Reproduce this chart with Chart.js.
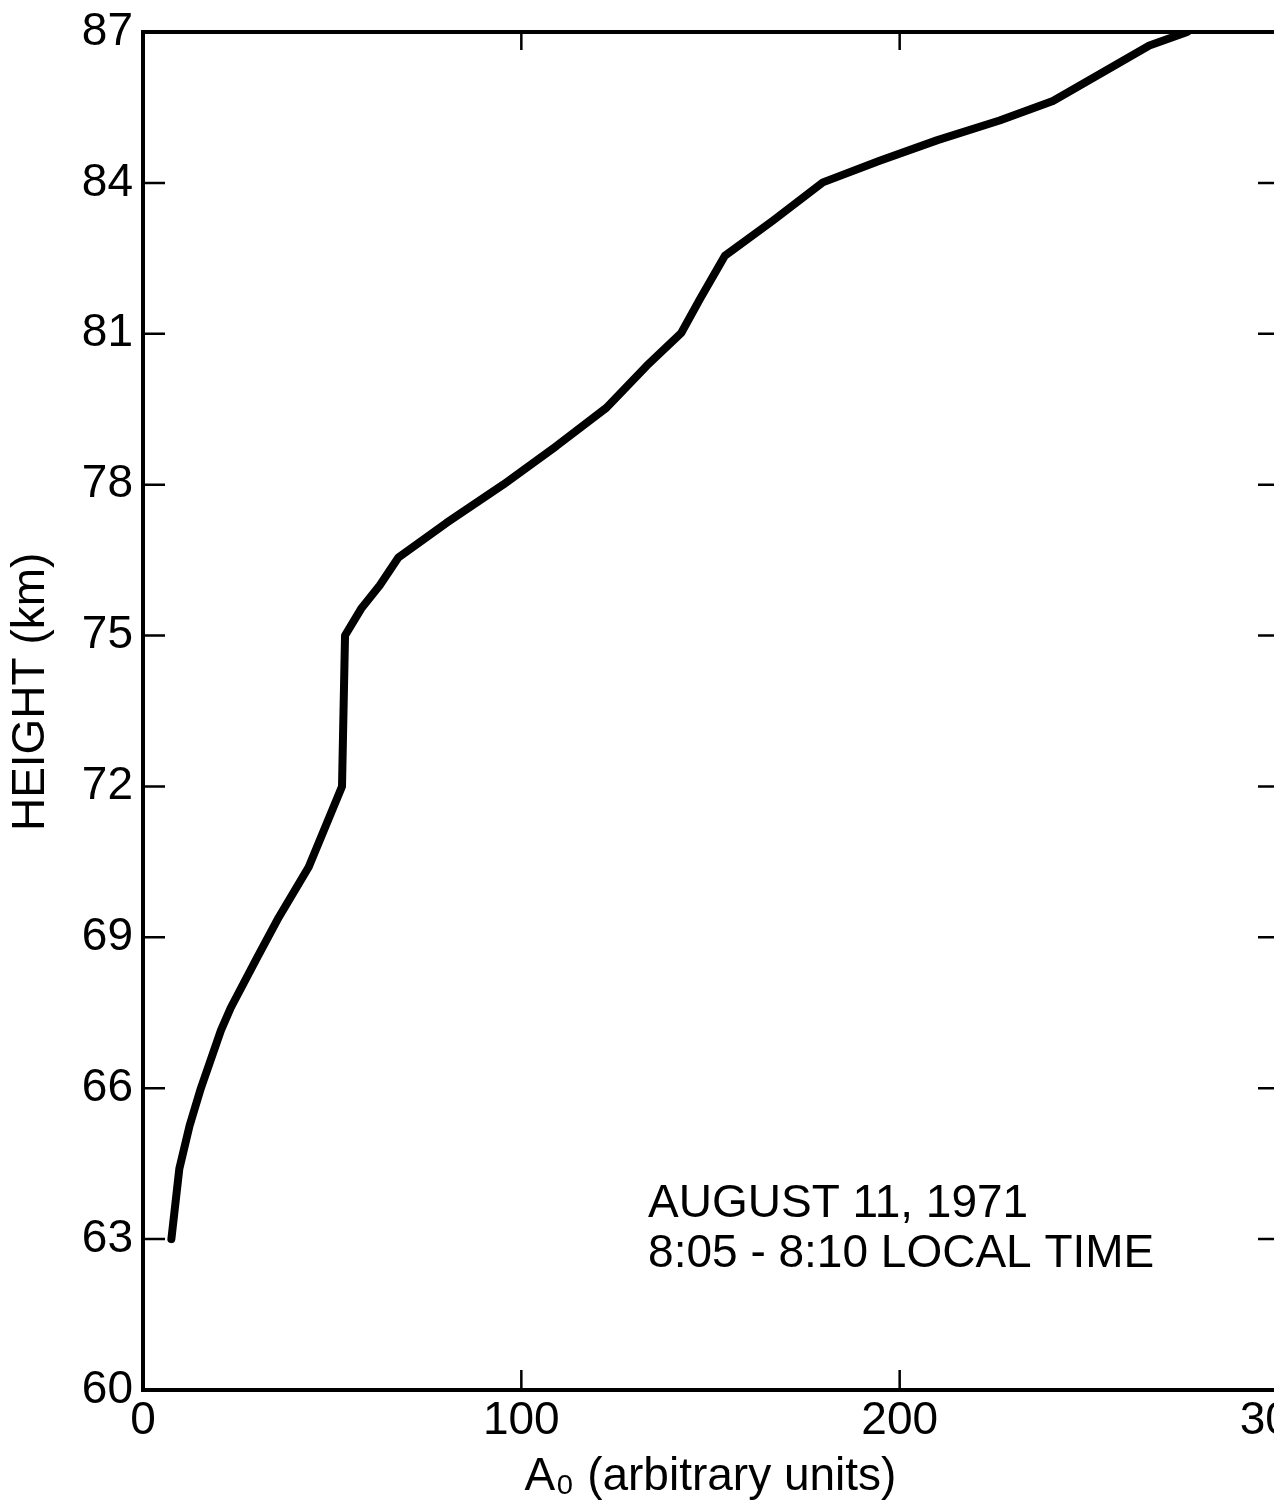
<!DOCTYPE html>
<html>
<head>
<meta charset="utf-8">
<script src="https://cdn.jsdelivr.net/npm/chart.js@4.4.1/dist/chart.umd.min.js"></script>
<style>
  html, body { margin: 0; padding: 0; background: #fff; overflow: hidden; }
  #wrap { width: 1340px; height: 1509px; }
</style>
</head>
<body>
<div id="wrap"><canvas id="myChart" width="1340" height="1509"></canvas></div>
<script>
// profile: amplitude (arbitrary units) vs height (km)
const amplitude = [7.5, 9.6, 12.3, 15.3, 20.6, 23.2, 30.2, 35.9, 43.8, 52.6, 53.4, 57.8, 62.6, 67.5,
    80.2, 95.2, 109.3, 122.5, 133.1, 142.3, 147.2, 153.8, 166.5, 179.7, 194.7, 210, 226.4,
    240.5, 252.8, 266, 276];
const height = [63, 64.4, 65.25, 66, 67.15, 67.6, 68.6, 69.4, 70.4, 72, 75, 75.55, 76, 76.55,
    77.24, 78.0, 78.77, 79.53, 80.36, 81.02, 81.69, 82.55, 83.25, 84.01, 84.44, 84.85, 85.24,
    85.63, 86.16, 86.73, 87];

const heightTicks = [60, 63, 66, 69, 72, 75, 78, 81, 84, 87];
const ampTicks = [0, 100, 200, 300];
const noteLines = ['AUGUST 11, 1971', '8:05 - 8:10 LOCAL TIME'];

const FONT = '"Liberation Sans", Arial, sans-serif';

// frame, inward tick marks and the date note
const frameTicks = {
    id: 'frameTicks',
    afterDraw(chart) {
        const { ctx, chartArea: a, scales: { x, y } } = chart;
        ctx.save();
        ctx.strokeStyle = '#000';
        ctx.lineWidth = 4;
        ctx.strokeRect(a.left, a.top, a.right - a.left, a.bottom - a.top);

        ctx.lineWidth = 2.5;
        ctx.beginPath();
        heightTicks.slice(1, -1).forEach(v => {
            const py = y.getPixelForValue(v);
            ctx.moveTo(a.left, py);
            ctx.lineTo(a.left + 22, py);
            ctx.moveTo(a.right, py);
            ctx.lineTo(a.right - 20, py);
        });
        ampTicks.slice(1, -1).forEach(v => {
            const px = x.getPixelForValue(v);
            ctx.moveTo(px, a.bottom);
            ctx.lineTo(px, a.bottom - 20);
            ctx.moveTo(px, a.top);
            ctx.lineTo(px, a.top + 18);
        });
        ctx.stroke();

        ctx.fillStyle = '#000';
        ctx.font = '46px ' + FONT;
        ctx.textBaseline = 'middle';
        ctx.textAlign = 'left';
        noteLines.forEach((t, i) => {
            ctx.fillText(t, x.getPixelForValue(133.5), y.getPixelForValue(63.7 - i));
        });
        ctx.restore();
    }
};

const ctx = document.getElementById('myChart');

new Chart(ctx, {
    type: 'line',
    data: {
        datasets: [{
            data: amplitude.map((v, i) => ({ x: v, y: height[i] })),
            borderColor: '#000',
            borderWidth: 8,
            pointRadius: 0,
            tension: 0,
            fill: false,
            borderJoinStyle: 'round',
            borderCapStyle: 'round'
        }]
    },
    options: {
        responsive: false,
        animation: false,
        layout: { padding: { left: 0, top: 32, right: 62, bottom: 0 } },
        plugins: {
            legend: { display: false },
            tooltip: { enabled: false }
        },
        scales: {
            x: {
                type: 'linear',
                min: 0,
                max: 300,
                afterBuildTicks: s => { s.ticks = ampTicks.map(v => ({ value: v })); },
                afterFit: s => {
                    s.height = 119;
                    s.paddingLeft = 0;
                    s.paddingRight = 0;
                },
                grid: { display: false, drawTicks: false },
                border: { display: false },
                ticks: {
                    color: '#000',
                    padding: 4,
                    maxRotation: 0,
                    font: { family: FONT, size: 46 }
                },
                title: {
                    display: true,
                    text: 'A\u2080 (arbitrary units)',
                    color: '#000',
                    font: { family: FONT, size: 46 },
                    padding: { top: 0, bottom: 4 }
                }
            },
            y: {
                type: 'linear',
                min: 60,
                max: 87,
                afterBuildTicks: s => { s.ticks = heightTicks.map(v => ({ value: v })); },
                afterFit: s => {
                    s.width = 143;
                    s.paddingTop = 0;
                    s.paddingBottom = 0;
                },
                grid: { display: false, drawTicks: false },
                border: { display: false },
                ticks: {
                    color: '#000',
                    padding: 10,
                    font: { family: FONT, size: 46 }
                },
                title: {
                    display: true,
                    text: '   HEIGHT (km)',
                    color: '#000',
                    font: { family: FONT, size: 46 },
                    padding: { top: 4, bottom: 0 }
                }
            }
        }
    },
    plugins: [frameTicks]
});
</script>
</body>
</html>
